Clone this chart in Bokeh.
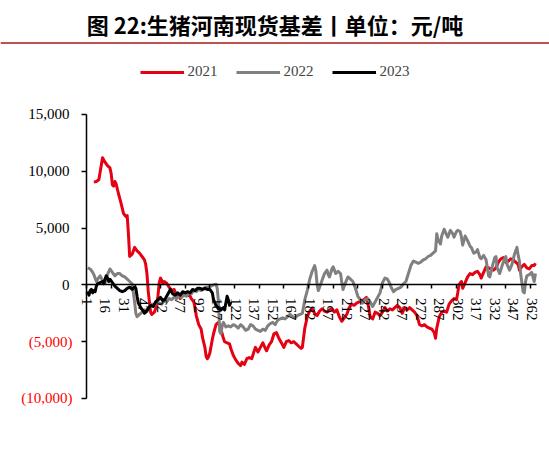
import math

from bokeh.plotting import figure
from bokeh.models import (ColumnDataSource, Range1d, LinearAxis, FixedTicker,
                          Span, Legend, LegendItem, NumeralTickFormatter)
from bokeh.embed import file_html
from bokeh.resources import INLINE

## ----- DATA ----- ##
TITLE = "图 22:生猪河南现货基差丨单位：元/吨"

DAY_2021 = [7, 9, 11, 12, 14, 16, 18, 20, 21, 22, 23, 24, 25, 27, 29, 31, 33, 34, 35, 36,
            38, 40, 42, 44, 46, 48, 49, 50, 51, 52, 53, 54, 56, 58, 59, 60, 61, 62, 63, 64,
            66, 68, 70, 72, 74, 76, 77, 79, 81, 83, 85, 86, 88, 89, 90, 92, 94, 95, 97, 98,
            99, 100, 101, 102, 103, 104, 106, 108, 109, 110, 112, 113, 115, 117, 118, 120, 122, 124, 126, 127,
            129, 131, 133, 135, 137, 138, 140, 142, 144, 146, 147, 149, 151, 153, 155, 157, 159, 161, 163, 165,
            167, 169, 171, 173, 175, 176, 178, 180, 182, 184, 186, 188, 190, 192, 194, 196, 198, 200, 202, 204,
            206, 208, 210, 212, 214, 216, 218, 220, 222, 224, 226, 228, 229, 231, 233, 235, 237, 239, 241, 243,
            245, 247, 249, 251, 253, 255, 257, 259, 261, 263, 265, 267, 269, 271, 273, 275, 277, 279, 281, 283,
            284, 285, 287, 289, 291, 293, 295, 297, 299, 301, 302, 303, 305, 306, 308, 310, 312, 314, 316, 318,
            320, 321, 323, 325, 327, 329, 331, 333, 335, 337, 339, 341, 343, 345, 347, 349, 351, 352, 354, 356,
            358, 360, 362, 364, 365]
BASIS_2021 = [9050, 9100, 9250, 9900, 11200, 10800, 10500, 10300, 9800, 8800, 8700, 9100, 8900, 8000, 7200, 6300, 6000, 6100, 4500, 2500,
              2700, 3300, 3000, 2800, 2500, 2200, 1800, 1000, -500, -1500, -2400, -2600, -2400, -1800, -900, 200, 600, 400, 100, 300,
              150, -200, -500, -400, -900, -1000, -1200, -900, -700, -900, -1000, -1200, -1500, -2000, -2700, -3500, -3900, -4600, -5500, -6300,
              -6500, -6300, -6000, -5400, -4800, -4300, -3500, -3300, -3500, -3900, -4700, -5000, -5100, -5200, -5600, -6200, -6600, -6900, -7100, -6800,
              -7000, -6500, -6400, -6500, -5800, -5500, -5900, -5500, -5100, -5600, -5800, -5300, -5000, -4300, -4200, -4700, -5100, -5500, -5000, -4900,
              -5100, -5000, -5200, -5400, -5600, -5500, -3800, -2800, -2300, -2100, -2500, -2700, -2300, -2100, -2300, -2400, -2200, -2100, -2400, -2200,
              -2800, -3200, -2900, -2600, -2000, -1700, -1800, -1600, -1500, -1400, -1300, -1100, -1500, -2800, -3000, -2400, -2500, -2700, -2400, -2000,
              -2300, -2100, -2200, -2000, -1800, -2000, -2500, -2000, -2200, -2000, -2200, -2400, -2700, -3500, -3600, -3500, -3700, -3800, -3900, -4200,
              -4700, -3800, -2800, -2400, -2300, -2400, -1700, -1400, -1200, -1300, -700, 0, 300, -300, 200, 700, 1000, 900, 1100, 1200,
              900, 600, 1100, 1600, 1500, 1400, 1300, 1500, 2000, 2300, 2400, 2000, 2100, 2300, 2200, 2000, 1800, 1300, 1600, 1800,
              1500, 1400, 1700, 1700, 1900]

DAY_2022 = [2, 4, 6, 7, 9, 10, 12, 14, 16, 18, 20, 22, 24, 26, 28, 30, 32, 34, 36, 38,
            39, 40, 41, 42, 44, 46, 48, 50, 52, 54, 56, 58, 60, 62, 64, 66, 68, 70, 72, 74,
            76, 78, 80, 82, 84, 86, 88, 90, 92, 94, 96, 98, 100, 102, 104, 106, 107, 108, 109, 110,
            111, 112, 114, 116, 118, 120, 122, 124, 126, 128, 130, 132, 134, 136, 138, 140, 142, 144, 146, 148,
            150, 152, 154, 156, 158, 160, 162, 164, 166, 168, 170, 172, 174, 176, 178, 180, 182, 184, 186, 187,
            188, 189, 190, 192, 194, 196, 197, 198, 200, 201, 203, 205, 207, 208, 209, 211, 213, 215, 217, 219,
            221, 223, 225, 227, 229, 231, 233, 235, 237, 239, 241, 243, 245, 247, 248, 250, 252, 254, 256, 258,
            260, 262, 264, 266, 268, 270, 272, 274, 276, 278, 280, 282, 284, 285, 286, 288, 289, 291, 293, 294,
            296, 298, 299, 301, 302, 304, 305, 306, 308, 310, 312, 313, 315, 317, 318, 320, 321, 323, 325, 327,
            328, 330, 332, 333, 334, 336, 338, 340, 341, 342, 344, 346, 348, 350, 351, 352, 353, 354, 355, 356,
            357, 358, 360, 362, 364, 365]
BASIS_2022 = [1500, 1400, 1100, 900, 300, 500, 800, 400, 150, 900, 1400, 1100, 800, 1000, 1000, 800, 700, 500, 300, 100,
              -700, -1500, -2500, -2800, -2600, -2400, -2200, -2300, -1900, -1700, -1800, -1500, -1600, -1700, -1400, -1500, -1200, -1300, -1100, -1200,
              -1000, -1100, -900, -1000, -700, -800, -500, -600, -400, -500, -300, -200, -200, -100, 0, 50, -300, -1500, -4100, -4300,
              -3600, -3300, -3700, -3600, -3700, -3500, -3600, -3800, -3500, -3700, -4000, -3900, -3500, -3600, -3900, -4000, -4100, -3900, -4000, -3600,
              -3400, -3300, -3500, -3100, -3000, -2900, -3000, -2800, -2600, -2800, -2900, -2700, -2600, -2500, -1300, -500, 500, 1200, 1700, 1200,
              0, -500, -200, 400, 1000, 1300, 900, 700, 1400, 1600, 1000, 1200, 1000, 200, -400, 200, 700, 500, 300, -300,
              -1000, -1300, -1600, -1300, -1200, -1500, -1900, -1500, -1100, -700, 200, 600, 500, 100, -200, -600, -400, -300, -200, 100,
              300, 1000, 1700, 2100, 2000, 1900, 2000, 2200, 2300, 2500, 2600, 2800, 3000, 4500, 4000, 3600, 4300, 4900, 4400, 4200,
              4800, 4500, 4200, 4700, 4800, 4700, 4200, 3500, 4300, 3900, 3400, 3300, 2800, 2900, 3100, 2400, 2300, 2600, 2200, 800,
              700, 1600, 2400, 2500, 1500, 1000, 1700, 2300, 2500, 1800, 1300, 1800, 2700, 3300, 2600, 2100, 1000, 200, -600, -700,
              300, 800, 900, 1100, 300, 1000]

DAY_2023 = [1, 2, 3, 4, 5, 6, 7, 8, 9, 10, 12, 14, 15, 16, 17, 18, 19, 20, 22, 24,
            26, 28, 30, 32, 34, 36, 38, 40, 41, 42, 43, 45, 47, 48, 49, 51, 53, 55, 57, 59,
            61, 63, 65, 67, 69, 71, 73, 75, 77, 79, 81, 83, 85, 87, 89, 91, 93, 95, 97, 99,
            101, 103, 104, 106, 108, 110, 112, 113, 114, 115, 116, 117, 118]
BASIS_2023 = [-800, -700, -900, -500, -400, -700, -500, -600, -100, 100, 200, 300, 100, 500, 800, 600, 300, 500, 200, -100,
              -300, -500, -600, -500, -300, -200, -400, -200, -300, -1000, -1600, -2000, -2300, -2500, -2400, -2100, -1800, -1900, -1500, -1300,
              -1100, -1400, -1200, -800, -400, -800, -900, -700, -900, -600, -700, -600, -700, -400, -500, -300, -300, -400, -300, -400,
              -400, -700, -1300, -1800, -2100, -2200, -2000, -2200, -1600, -1000, -1300, -1800, -1500]

X_LABEL_TICKS = [1, 16, 31, 47, 62, 77, 92, 107, 122, 137, 152, 167, 182, 197, 212, 227,
                 242, 257, 272, 287, 302, 317, 332, 347, 362]
X_MARK_TICKS = [1, 21, 41, 61, 81, 101, 121, 141, 161, 181, 201, 221, 241, 261, 281, 301,
                321, 341, 361]
Y_TICKS_POS = [0, 5000, 10000, 15000]
Y_TICKS_NEG = [-10000, -5000]

RED = "#E50012"
GREY = "#808080"
BLACK = "#000000"
FONT_NUM = "Liberation Serif"

## ----- FIGURE ----- ##
p = figure(frame_width=549, frame_height=408,
           x_range=Range1d(-68.73, 376.4), y_range=Range1d(-14490, 21426),
           x_axis_location=None, y_axis_location=None,
           output_backend="svg", toolbar_location=None, min_border=0,
           title=TITLE)
p.min_border_top = 41
p.grid.visible = False
p.outline_line_color = None
p.background_fill_color = "white"
p.border_fill_color = "white"

p.title.text_font = "Noto Sans CJK SC"
p.title.text_font_size = "22px"
p.title.text_font_style = "bold"
p.title.text_color = "#000000"
p.title.align = "center"
p.title.offset = -16
p.title.standoff = 4

# rule under the title
p.add_layout(Span(location=21290, dimension="width", line_color="#C0504D", line_width=2))

r21 = p.line(x="day", y="basis", source=ColumnDataSource(dict(day=DAY_2021, basis=BASIS_2021)),
             line_color=RED, line_width=3, line_join="round")
r22 = p.line(x="day", y="basis", source=ColumnDataSource(dict(day=DAY_2022, basis=BASIS_2022)),
             line_color=GREY, line_width=3, line_join="round")
r23 = p.line(x="day", y="basis", source=ColumnDataSource(dict(day=DAY_2023, basis=BASIS_2023)),
             line_color=BLACK, line_width=3, line_join="round")

## ----- AXES ----- ##
xaxis = LinearAxis(fixed_location=0, bounds=(1, 366),
                   ticker=FixedTicker(ticks=X_LABEL_TICKS, minor_ticks=X_MARK_TICKS))
xaxis.axis_line_color = BLACK
xaxis.axis_line_width = 1.5
xaxis.major_tick_in = 0
xaxis.major_tick_out = 0
xaxis.minor_tick_in = 0
xaxis.minor_tick_out = 4
xaxis.minor_tick_line_color = BLACK
xaxis.minor_tick_line_width = 1.5
xaxis.major_label_orientation = -math.pi / 2
xaxis.major_label_standoff = 9
xaxis.major_label_text_font = FONT_NUM
xaxis.major_label_text_font_size = "15px"
xaxis.major_label_text_color = BLACK
p.add_layout(xaxis, "below")

yaxis = LinearAxis(fixed_location=1, bounds=(-10000, 15000),
                   ticker=FixedTicker(ticks=Y_TICKS_POS),
                   formatter=NumeralTickFormatter(format="0,0"))
yaxis.axis_line_color = BLACK
yaxis.axis_line_width = 1.5
yaxis.major_tick_in = 0
yaxis.major_tick_out = 5
yaxis.major_tick_line_width = 1.5
yaxis.major_label_standoff = 12
yaxis.major_label_text_font = FONT_NUM
yaxis.major_label_text_font_size = "15px"
yaxis.major_label_text_color = BLACK
p.add_layout(yaxis, "left")

yaxis_neg = LinearAxis(fixed_location=1, bounds=(-10000, 15000),
                       ticker=FixedTicker(ticks=Y_TICKS_NEG),
                       formatter=NumeralTickFormatter(format="(0,0)"))
yaxis_neg.axis_line_color = None
yaxis_neg.major_tick_in = 0
yaxis_neg.major_tick_out = 5
yaxis_neg.major_tick_line_width = 1.5
yaxis_neg.major_label_standoff = 9
yaxis_neg.major_label_text_font = FONT_NUM
yaxis_neg.major_label_text_font_size = "15px"
yaxis_neg.major_label_text_color = "#FF0000"
p.add_layout(yaxis_neg, "left")

## ----- LEGEND ----- ##
legend = Legend(items=[LegendItem(label="2021", renderers=[r21]),
                       LegendItem(label="2022", renderers=[r22]),
                       LegendItem(label="2023", renderers=[r23])],
                orientation="horizontal", location="top")
legend.border_line_color = None
legend.background_fill_alpha = 0
legend.label_text_font = FONT_NUM
legend.label_text_font_size = "15px"
legend.glyph_width = 44
legend.glyph_height = 16
legend.label_height = 16
legend.label_standoff = 4
legend.spacing = 18
legend.padding = 4
legend.margin = 22
p.add_layout(legend)

open("out.html", "w").write(file_html(p, INLINE))
